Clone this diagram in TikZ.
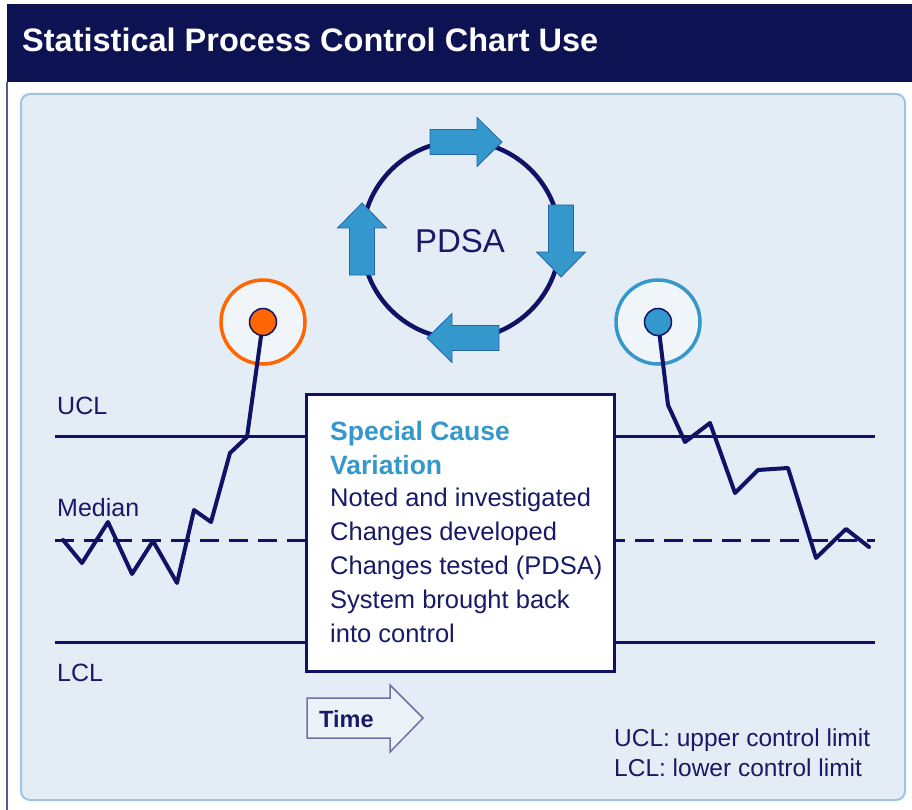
\documentclass[tikz,border=0pt]{standalone}
\usepackage{fontspec}
\setmainfont{Liberation Sans}
\definecolor{hdr}{RGB}{12,18,82}
\definecolor{navy}{RGB}{16,18,102}
\definecolor{txt}{RGB}{24,26,104}
\definecolor{panel}{RGB}{228,237,245}
\definecolor{panelb}{RGB}{160,196,224}
\definecolor{sblue}{RGB}{52,152,204}
\definecolor{sblueb}{RGB}{40,100,170}
\definecolor{orng}{RGB}{255,102,0}
\definecolor{ring}{RGB}{240,245,250}
\tikzset{
  pline/.style={navy, line width=3pt},
  chart/.style={navy, line width=4pt, line join=round, line cap=round},
  lbl/.style={anchor=base west, inner sep=0pt, text=txt, font=\fontsize{25}{29}\selectfont},
  boxtxt/.style={lbl, font=\fontsize{25.5}{29}\selectfont},
  blockarrow/.pic={\draw[draw=sblueb, fill=sblue, line width=0.8pt, line join=miter]
     (-36,-12.5) -- (11,-12.5) -- (11,-24.5) -- (36,0) -- (11,24.5) -- (11,12.5) -- (-36,12.5) -- cycle;},
  dot/.style={circle, draw=navy, line width=1.5pt, minimum size=27pt, inner sep=0pt},
  halo/.style={circle, line width=3.5pt, fill=ring, minimum size=84pt, inner sep=0pt},
}
\begin{document}
\begin{tikzpicture}[x=1pt,y=-1pt]
\useasboundingbox (0,0) rectangle (912,810);
\fill[white] (0,0) rectangle (912,810);
% header
\fill[hdr] (7,4) rectangle (912,82);
\draw[navy!70, line width=2pt] (7,82) -- (7,810);
\node[anchor=base west, inner sep=0pt, text=white, font=\bfseries\fontsize{32.5}{36}\selectfont] (title) at (22,52) {Statistical Process Control Chart Use};
% panel
\draw[panelb, fill=panel, line width=2pt, rounded corners=9pt] (21,94) rectangle (905,800);
% PDSA cycle
\node[circle, draw=navy, line width=4.5pt, minimum size=198pt, inner sep=0pt] (cyc) at (461,240) {};
\node[text=txt, font=\fontsize{33}{36}\selectfont] (pdsa) at (460,241) {PDSA};
\pic at (466,142) {blockarrow};
\pic[rotate=-90] at (561,241) {blockarrow};
\pic[rotate=180] at (463,338) {blockarrow};
\pic[rotate=90] at (362,239) {blockarrow};
% limit lines
\coordinate (u0) at (55,436); \coordinate (u1) at (875,436);
\coordinate (m0) at (55,540); \coordinate (m1) at (875,540);
\coordinate (l0) at (55,642); \coordinate (l1) at (875,642);
\draw[pline] (u0) -- (u1);
\draw[pline] (l0) -- (l1);
\draw[pline, dash pattern=on 19pt off 10pt] (m0) -- (m1);
\node[lbl] (ucl) at (57,414) {UCL};
\node[lbl] (med) at (57,516) {Median};
\node[lbl] (lcl) at (57,681) {LCL};
% halos
\node[halo, draw=orng] (h1) at (263,322) {};
\node[halo, draw=sblue] (h2) at (658,322) {};
% chart lines
\draw[chart] (63,540) -- (82,563) -- (108,522) -- (132,574) -- (153,541) -- (177,583) -- (194,510) -- (211,522) -- (230,453) -- (247,437) -- (263,322);
\draw[chart] (658,322) -- (668,405) -- (685,442) -- (710,423) -- (735,493) -- (758,470) -- (788,468) -- (816,558) -- (846,529) -- (869,547);
\node[dot, fill=orng] (d1) at (263,322) {};
\node[dot, fill=sblue] (d2) at (658,322) {};
% text box
\draw[navy, fill=white, line width=3pt] (306,394) rectangle (614,671);
\node[anchor=base west, inner sep=0pt, text=sblue, font=\bfseries\fontsize{26.5}{30}\selectfont] (sc1) at (330,440) {Special Cause};
\node[anchor=base west, inner sep=0pt, text=sblue, font=\bfseries\fontsize{26.5}{30}\selectfont] (sc2) at (330,474) {Variation};
\node[boxtxt] (t1) at (330,506) {Noted and investigated};
\node[boxtxt] (t2) at (330,540) {Changes developed};
\node[boxtxt] (t3) at (330,574) {Changes tested (PDSA)};
\node[boxtxt] (t4) at (330,608) {System brought back};
\node[boxtxt] (t5) at (330,642) {into control};
% time arrow
\draw[navy!60, fill=ring!60!panel, line width=1.5pt, line join=miter] (307,698) -- (390,698) -- (390,685) -- (423,718) -- (390,752) -- (390,738) -- (307,738) -- cycle;
\node[anchor=base west, inner sep=0pt, text=txt, font=\bfseries\fontsize{23.5}{27}\selectfont] (time) at (319,727) {Time};
% legend
\node[lbl, font=\fontsize{24.5}{28}\selectfont] (lg1) at (614,746) {UCL: upper control limit};
\node[lbl, font=\fontsize{24.5}{28}\selectfont] (lg2) at (614,776) {LCL: lower control limit};
\end{tikzpicture}
\end{document}
